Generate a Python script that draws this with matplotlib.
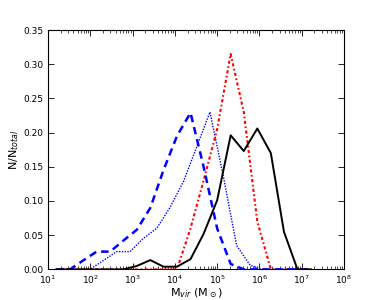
import numpy as np
import matplotlib
matplotlib.use("Agg")
import matplotlib.pyplot as plt
from matplotlib.ticker import LogLocator, FixedLocator, NullFormatter

# log10(M_vir) bin centres
logm_a = [1.20, 1.52, 1.83, 2.15, 2.47, 2.78, 3.10, 3.42, 3.73, 4.05, 4.37,
          4.68, 5.00, 5.32, 5.63, 5.95, 6.27, 6.58, 6.90, 7.22]
logm_b = [1.36, 1.68, 1.99, 2.31, 2.62, 2.94, 3.25, 3.57, 3.88, 4.20, 4.51,
          4.83, 5.15, 5.46, 5.78, 6.09, 6.41, 6.73, 7.04]

# fractions N/N_total
frac_solid = [0.0, 0.0, 0.0, 0.0, 0.0, 0.0, 0.005, 0.0136, 0.004, 0.004, 0.015,
              0.052, 0.101, 0.196, 0.173, 0.206, 0.170, 0.055, 0.0, 0.0]
frac_red = [0.0, 0.0, 0.0, 0.0, 0.0, 0.0, 0.0, 0.0, 0.0, 0.0, 0.06,
            0.13, 0.205, 0.315, 0.23, 0.07, 0.0, 0.0, 0.0, 0.0]
frac_dash = [0.0, 0.0, 0.013, 0.026, 0.026, 0.042, 0.058, 0.09, 0.145, 0.195, 0.229,
             0.15, 0.06, 0.008, 0.0, 0.0, 0.0, 0.0, 0.0, 0.0]
frac_dot = [0.0, 0.0, 0.0, 0.013, 0.026, 0.026, 0.045, 0.06, 0.09, 0.128, 0.178,
            0.23, 0.135, 0.035, 0.006, 0.0, 0.0, 0.0, 0.0]

fig = plt.figure(figsize=(3.82, 3.0), dpi=100)
ax = fig.add_axes([0.1257, 0.102, 0.7748, 0.798])

ma = 10 ** np.array(logm_a)
mb = 10 ** np.array(logm_b)
ax.plot(mb, frac_dot, color="blue", ls=(0, (1, 1)), lw=1.0)
ax.plot(ma, frac_red, color="red", ls=(0, (1.5, 1.2, 0.8, 1.2)), lw=1.5)
ax.plot(ma, frac_dash, color="blue", ls=(0, (3, 2)), lw=1.8)
ax.plot(ma, frac_solid, color="black", ls="-", lw=1.4)

ax.set_xscale("log")
ax.set_xlim(10, 1e8)
ax.set_ylim(0, 0.35)
ax.xaxis.set_major_locator(LogLocator(base=10, numticks=10))
ax.xaxis.set_minor_locator(LogLocator(base=10, subs=np.arange(2, 10), numticks=20))
ax.xaxis.set_minor_formatter(NullFormatter())
ax.yaxis.set_major_locator(FixedLocator([0.0, 0.05, 0.10, 0.15, 0.20, 0.25, 0.30, 0.35]))
ax.set_yticklabels(["0.00", "0.05", "0.10", "0.15", "0.20", "0.25", "0.30", "0.35"])

ax.tick_params(which="both", direction="in", top=True, right=True, labelsize=6.5, pad=3)
ax.tick_params(which="major", length=4, width=0.6)
ax.tick_params(which="minor", length=2, width=0.5)
for s in ax.spines.values():
    s.set_linewidth(0.8)

ax.set_ylabel(r"N/N$_{total}$", fontsize=8, labelpad=2)
ax.set_xlabel(r"M$_{vir}$ (M$_\odot$)", fontsize=8, labelpad=0.5)

fig.savefig("out.png", dpi=100)
